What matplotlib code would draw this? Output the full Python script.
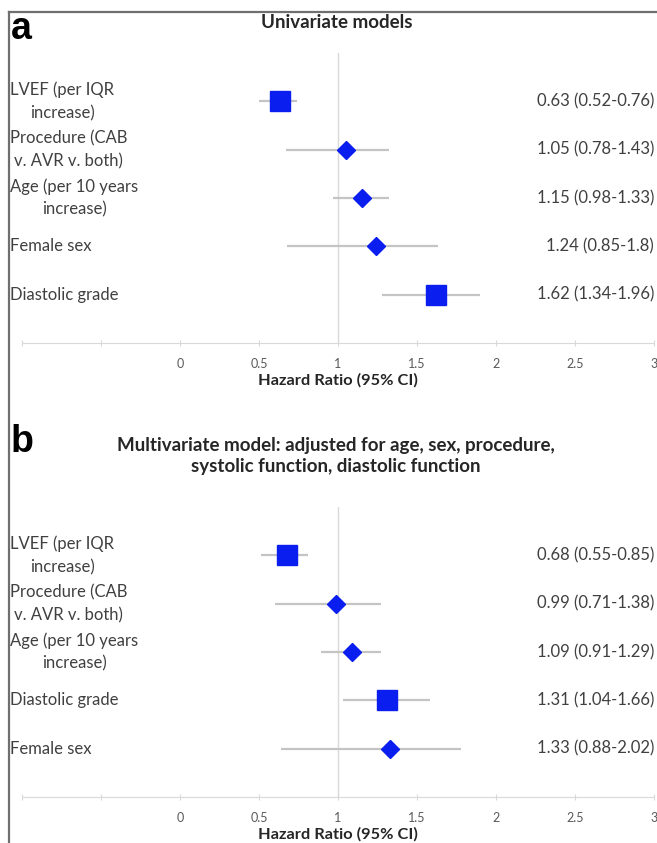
import numpy as np
import matplotlib
matplotlib.use("Agg")
import matplotlib.pyplot as plt
from matplotlib.lines import Line2D
from matplotlib.transforms import blended_transform_factory

W, H = 657, 843

# panel a: univariate
labels_a = ["LVEF (per IQR\nincrease)", "Procedure (CAB\nv. AVR v. both)",
            "Age (per 10 years\nincrease)", "Female sex", "Diastolic grade"]
hr_a = [0.63, 1.05, 1.15, 1.24, 1.62]
bar_lo_a = [0.50, 0.67, 0.97, 0.68, 1.28]
bar_hi_a = [0.74, 1.32, 1.32, 1.63, 1.90]
ci_text_a = ["0.63 (0.52-0.76)", "1.05 (0.78-1.43)", "1.15 (0.98-1.33)",
             "1.24 (0.85-1.8)", "1.62 (1.34-1.96)"]

# panel b: multivariate
labels_b = ["LVEF (per IQR\nincrease)", "Procedure (CAB\nv. AVR v. both)",
            "Age (per 10 years\nincrease)", "Diastolic grade", "Female sex"]
hr_b = [0.68, 0.99, 1.09, 1.31, 1.33]
bar_lo_b = [0.51, 0.60, 0.89, 1.03, 0.64]
bar_hi_b = [0.81, 1.27, 1.27, 1.58, 1.78]
ci_text_b = ["0.68 (0.55-0.85)", "0.99 (0.71-1.38)", "1.09 (0.91-1.29)",
             "1.31 (1.04-1.66)", "1.33 (0.88-2.02)"]

ticks = [-1, -0.5, 0, 0.5, 1, 1.5, 2, 2.5, 3]
tick_labels = ["", "", "0", "0.5", "1", "1.5", "2", "2.5", "3"]

plt.rcParams['font.family'] = ['Lato', 'DejaVu Sans']
BLUE = '#0a1ef0'
TXT = '#404040'


def fx(px):
    return px / W


def fy(py):
    return 1 - py / H


def panel(fig, top, bottom, labels, hr, lo, hi, ci_text):
    ax = fig.add_axes([fx(22), fy(bottom), fx(632), (bottom - top) / H])
    rows = np.arange(1, len(labels) + 1)
    ax.set_xlim(-1, 3)
    ax.set_ylim(6, 0)
    ax.axvline(1, color='#d9d9d9', lw=1, zorder=1)
    ax.hlines(rows, lo, hi, color='#c4c4c4', lw=1.6, zorder=2)
    for r, lab, v in zip(rows, labels, hr):
        if lab.startswith("LVEF") or lab.startswith("Diastolic"):
            ax.plot(v, r, marker='s', ms=14.5, color=BLUE, mec=BLUE, zorder=3)
        else:
            ax.plot(v, r, marker='D', ms=9.5, color=BLUE, mec=BLUE, zorder=3)
    tr = blended_transform_factory(fig.transFigure, ax.transData)
    for r, lab in zip(rows, labels):
        ax.text(fx(10), r, lab, transform=tr, ha='left', va='center',
                multialignment='center', fontsize=12, color=TXT,
                linespacing=1.5)
    for r, t in zip(rows, ci_text):
        ax.text(3.0, r, t, ha='right', va='center', fontsize=12, color=TXT,
                clip_on=False)
    for s in ['top', 'right', 'left']:
        ax.spines[s].set_visible(False)
    ax.spines['bottom'].set_color('#d9d9d9')
    ax.set_yticks([])
    ax.set_xticks(ticks)
    ax.set_xticklabels(tick_labels, fontsize=9, color='#595959')
    ax.tick_params(axis='x', direction='inout', length=4, color='#d9d9d9',
                   pad=9)
    ax.text((338 - 22) / 632, -37 / (bottom - top), "Hazard Ratio (95% CI)",
            transform=ax.transAxes, ha='center', va='center', fontsize=11.8,
            fontweight='bold', color='#262626')
    return ax


fig = plt.figure(figsize=(W / 100, H / 100), dpi=100)

panel(fig, 53, 343, labels_a, hr_a, bar_lo_a, bar_hi_a, ci_text_a)
panel(fig, 507, 797, labels_b, hr_b, bar_lo_b, bar_hi_b, ci_text_b)

fig.text(fx(337), fy(22), "Univariate models", ha='center', va='center',
         fontsize=13.5, fontweight='bold', color='#262626')
fig.text(fx(336), fy(456),
         "Multivariate model: adjusted for age, sex, procedure,\nsystolic function, diastolic function",
         ha='center', va='center', fontsize=13.5, fontweight='bold',
         color='#262626', linespacing=1.35)

fig.text(fx(11), fy(39), "a", ha='left', va='baseline', fontsize=27,
         fontweight='bold', family='Liberation Sans', color='black')
fig.text(fx(11), fy(452), "b", ha='left', va='baseline', fontsize=27,
         fontweight='bold', family='Liberation Sans', color='black')

# outer frame
fig.add_artist(Line2D([fx(9), fx(9)], [fy(12), 0], color='#6f6f6f', lw=1.6))
fig.add_artist(Line2D([fx(9), 1], [fy(12), fy(12)], color='#6f6f6f', lw=1.6))

fig.savefig("out.png", dpi=100)
